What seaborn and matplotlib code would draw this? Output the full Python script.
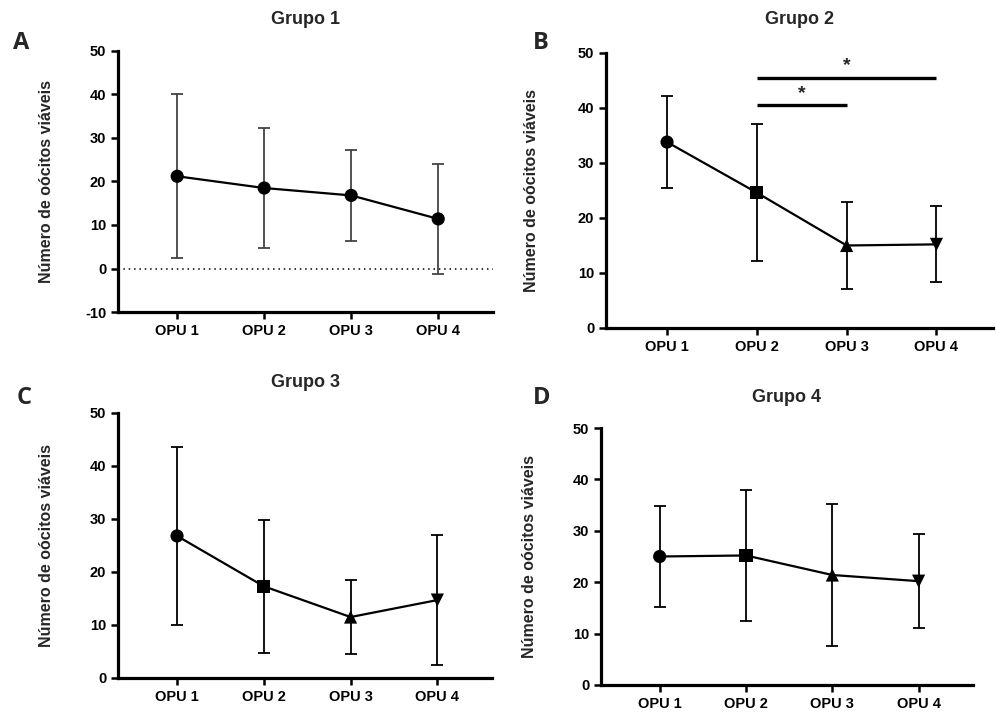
import pandas as pd
import matplotlib
matplotlib.use("Agg")
import matplotlib.pyplot as plt
import seaborn as sns

# ==============================================================================
# DADOS (média ± DP)
# ==============================================================================
opus = ["OPU 1", "OPU 2", "OPU 3", "OPU 4"]
marcadores_padrao = ["o", "s", "^", "v"]
marcadores_grupo1 = ["o", "o", "o", "o"]

grupo1_media = [21.2, 18.5, 16.8, 11.4]
grupo1_dp = [18.8, 13.7, 10.4, 12.6]

grupo2_media = [33.8, 24.6, 15.0, 15.2]
grupo2_dp = [8.4, 12.5, 7.9, 6.9]

grupo3_media = [26.8, 17.3, 11.5, 14.7]
grupo3_dp = [16.8, 12.6, 7.0, 12.3]

grupo4_media = [25.0, 25.2, 21.4, 20.2]
grupo4_dp = [9.8, 12.8, 13.8, 9.2]

# comparações significativas no Grupo 2: (índice inicial, índice final, altura)
grupo2_sig = [(1, 2, 40.5), (1, 3, 45.5)]

# ==============================================================================
# CONFIGURAÇÕES GERAIS
# ==============================================================================
sns.set_theme(style="ticks")
plt.rcParams["font.family"] = ["Liberation Sans", "DejaVu Sans"]
plt.rcParams["font.weight"] = "bold"
plt.rcParams["axes.labelweight"] = "bold"
plt.rcParams["axes.unicode_minus"] = False

fig = plt.figure(figsize=(9.96, 7.13), dpi=100)

paineis = [
    # letra, título, médias, dp, marcadores, ylim, yticks, posição [l, b, w, h], cor da barra de erro
    ("A", "Grupo 1", grupo1_media, grupo1_dp, marcadores_grupo1, (-10, 50), range(-10, 51, 10),
     [0.1185, 0.5624, 0.3765, 0.3661], "#444444"),
    ("B", "Grupo 2", grupo2_media, grupo2_dp, marcadores_padrao, (0, 50), range(0, 51, 10),
     [0.6084, 0.5400, 0.3886, 0.3857], "black"),
    ("C", "Grupo 3", grupo3_media, grupo3_dp, marcadores_padrao, (0, 50), range(0, 51, 10),
     [0.1185, 0.0491, 0.3755, 0.3717], "black"),
    ("D", "Grupo 4", grupo4_media, grupo4_dp, marcadores_padrao, (0, 50), range(0, 51, 10),
     [0.6034, 0.0393, 0.3735, 0.3604], "black"),
]
letras_pos = {"A": (21, 43), "B": (541, 43), "C": (24, 398), "D": (542, 398)}
titulo_y = {"A": 20, "B": 20, "C": 383, "D": 397}

for letra, titulo, media, dp, marc, ylim, yticks, pos, cor_erro in paineis:
    ax = fig.add_axes(pos)
    df = pd.DataFrame({"OPU": opus, "x": range(len(opus)), "Media": media, "DP": dp})

    ax.errorbar(df["x"], df["Media"], yerr=df["DP"], fmt="none", ecolor=cor_erro,
                elinewidth=1.3, capsize=4.5, capthick=1.3, zorder=2)
    sns.lineplot(data=df, x="x", y="Media", color="black", linewidth=1.6, ax=ax, zorder=3)
    sns.scatterplot(data=df, x="x", y="Media", style="OPU", markers=dict(zip(opus, marc)),
                    color="black", s=90, edgecolor="black", linewidth=0, legend=False, ax=ax, zorder=4)

    if letra == "A":
        ax.axhline(0, color="black", linestyle=(0, (1, 2.5)), linewidth=1.1, zorder=1)

    if letra == "B":
        for i0, i1, h in grupo2_sig:
            ax.plot([i0, i1], [h, h], color="black", linewidth=2.4, solid_capstyle="butt")
            ax.text((i0 + i1) / 2, h + 0.6, "*", ha="center", va="bottom", fontsize=14)

    ax.set_xlim(-0.68, 3.63)
    ax.set_ylim(*ylim)
    ax.set_xticks(range(len(opus)))
    ax.set_xticklabels(opus)
    ax.set_yticks(list(yticks))
    ax.set_xlabel("")
    ax.set_ylabel("Número de oócitos viáveis", fontsize=11.5)
    ax.yaxis.set_label_coords(-0.172, 0.5)
    ax.tick_params(axis="both", labelsize=10.5, width=1.8, length=5, color="black", labelcolor="black")

    sns.despine(ax=ax)
    for lado in ["left", "bottom"]:
        ax.spines[lado].set_linewidth(2.3)
        ax.spines[lado].set_color("black")

    # título centralizado sobre o eixo
    x0, _, w, _ = pos
    fig.text(x0 + w / 2, 1 - titulo_y[letra] / 713, titulo, ha="center", va="center",
             fontsize=13, fontweight="bold")
    lx, ly = letras_pos[letra]
    fig.text(lx / 996, 1 - ly / 713, letra, ha="center", va="center", fontsize=17,
             fontweight="bold", family=["Open Sans", "DejaVu Sans"])

fig.savefig("out.png", dpi=100)
